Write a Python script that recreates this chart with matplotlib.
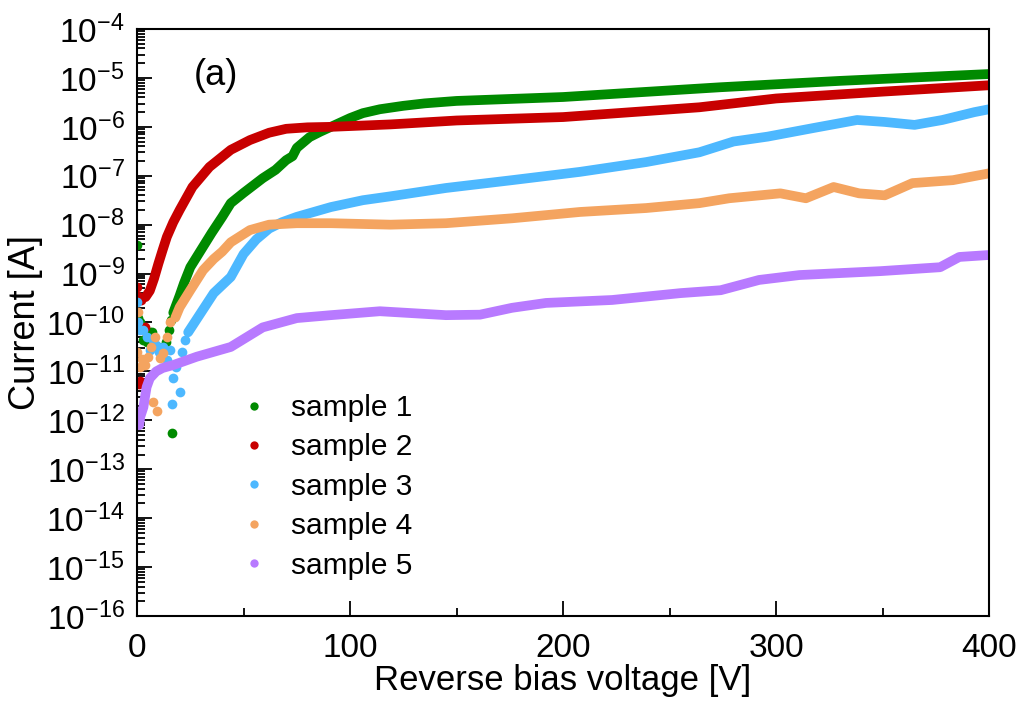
import matplotlib
matplotlib.use("Agg")
import matplotlib.pyplot as plt
from matplotlib.lines import Line2D
from matplotlib.ticker import LogLocator, NullFormatter, MultipleLocator
import numpy as np

plt.rcParams['font.family'] = ['Liberation Sans', 'DejaVu Sans']
plt.rcParams['mathtext.default'] = 'regular'

# values (voltage in V, log10 of current in A)
labels = ["sample 1", "sample 2", "sample 3", "sample 4", "sample 5"]
colors = ["#008a00", "#c80000", "#4db8ff", "#f4a460", "#b87aff"]

# smooth part of each curve
v1 = [17, 20, 22, 25, 30, 35, 40, 44, 50, 59, 65, 70, 73, 75, 81, 86, 91, 96,
      100, 106, 114, 125, 135, 150, 200, 274, 330, 400]
l1 = [-9.8, -9.45, -9.2, -8.87, -8.52, -8.17, -7.84, -7.56, -7.35, -7.05, -6.88,
      -6.68, -6.6, -6.43, -6.21, -6.1, -6.0, -5.9, -5.82, -5.72, -5.64, -5.57,
      -5.52, -5.47, -5.39, -5.19, -5.06, -4.92]

v2 = [4, 6, 8, 10, 12, 14, 17, 20, 26, 34, 44, 53, 62, 70, 80, 91, 119, 150,
      200, 264, 300, 350, 400]
l2 = [-9.48, -9.35, -9.1, -8.8, -8.52, -8.25, -7.95, -7.7, -7.23, -6.82, -6.47,
      -6.27, -6.12, -6.04, -6.01, -6.0, -5.95, -5.87, -5.8, -5.6, -5.42, -5.28,
      -5.15]

v3 = [24, 30, 36, 44, 50, 56, 62, 68, 75, 91, 106, 119, 145, 176, 208, 239, 264,
      280, 296, 318, 338, 351, 365, 378, 393, 400]
l3 = [-10.2, -9.8, -9.4, -9.07, -8.6, -8.3, -8.08, -7.95, -7.84, -7.64, -7.5,
      -7.42, -7.25, -7.09, -6.92, -6.72, -6.52, -6.3, -6.2, -6.02, -5.86, -5.9,
      -5.96, -5.86, -5.7, -5.64]

v4 = [18, 20, 25, 31, 36, 40, 44, 53, 62, 75, 91, 119, 145, 176, 208, 239, 264,
      278, 302, 314, 327, 339, 351, 364, 383, 400]
l4 = [-9.9, -9.69, -9.34, -8.93, -8.7, -8.55, -8.36, -8.11, -8.0, -7.97, -7.97,
      -8.0, -7.97, -7.87, -7.74, -7.66, -7.56, -7.46, -7.36, -7.46, -7.23, -7.36,
      -7.4, -7.15, -7.09, -6.95]

v5 = [1, 1.5, 3, 3.7, 4.5, 6, 9, 12, 17, 28, 44, 59, 75, 91, 114, 145, 161, 176,
      192, 223, 255, 274, 292, 311, 349, 377, 386, 400]
l5 = [-12.1, -11.93, -11.73, -11.53, -11.32, -11.14, -11.0, -10.93, -10.87,
      -10.7, -10.5, -10.1, -9.91, -9.85, -9.77, -9.85, -9.84, -9.7, -9.6, -9.54,
      -9.4, -9.34, -9.13, -9.03, -8.95, -8.87, -8.66, -8.62]

# noisy low-voltage points
sv1 = [0, 0.5, 1.5, 3, 4.5, 6, 7, 8, 10, 12, 13.5, 15, 16, 16.4]
sl1 = [-8.42, -9.9, -10.0, -10.36, -10.4, -10.2, -10.2, -10.45, -10.5, -10.5,
       -10.4, -10.15, -9.95, -12.26]
sv2 = [0, 0.5, 1, 2, 3, 3.8, 1.4, 0.8]
sl2 = [-9.28, -9.45, -9.5, -9.55, -10.16, -10.1, -11.2, -11.25]
sv3 = [0, 0.5, 1.5, 3, 4.5, 6, 7.5, 9, 10.5, 12, 14, 15.5, 17, 18.5, 20, 16.4,
       21, 22.5]
sl3 = [-9.58, -10.0, -10.15, -10.16, -10.3, -10.56, -10.36, -10.45, -10.6,
       -10.5, -10.77, -10.56, -11.14, -10.9, -11.42, -11.67, -10.6, -10.35]
sv4 = [0, 0.5, 1.4, 2.5, 3.8, 5, 6.5, 8.5, 10.8, 12, 14, 15.5, 7.5, 9.4]
sl4 = [-10.6, -9.79, -10.9, -10.75, -10.87, -10.7, -10.5, -10.3, -10.73, -10.63,
       -10.3, -10.0, -11.63, -11.8]

curves = [(v1, l1), (v2, l2), (v3, l3), (v4, l4), (v5, l5)]
points = [(sv1, sl1), (sv2, sl2), (sv3, sl3), (sv4, sl4)]

fig = plt.figure(figsize=(10.25, 7.08), dpi=100)
ax = fig.add_axes([0.1337, 0.13, 0.8313, 0.829])

for i, (v, l) in enumerate(curves):
    ax.plot(v, 10.0 ** np.array(l), color=colors[i], lw=7,
            solid_capstyle='round', solid_joinstyle='round', zorder=2 + i * 0.1)
for i, (v, l) in enumerate(points):
    ax.plot(v, 10.0 ** np.array(l), 'o', color=colors[i], ms=7, mew=0,
            zorder=2 + i * 0.1)

ax.set_yscale('log')
ax.set_xlim(0, 400)
ax.set_ylim(1e-16, 1e-4)
ax.xaxis.set_major_locator(MultipleLocator(100))
ax.xaxis.set_minor_locator(MultipleLocator(50))
ax.yaxis.set_major_locator(LogLocator(base=10, numticks=20))
ax.yaxis.set_minor_locator(LogLocator(base=10, subs=np.arange(2, 10), numticks=20))
ax.yaxis.set_minor_formatter(NullFormatter())

ax.tick_params(which='both', direction='in', top=False, right=False,
               labelsize=24, width=1.3)
ax.tick_params(axis='x', which='major', length=11, pad=12)
ax.tick_params(axis='x', which='minor', length=6)
ax.tick_params(axis='y', which='major', length=11, pad=9)
ax.tick_params(axis='y', which='minor', length=6)
for s in ax.spines.values():
    s.set_linewidth(1.5)

ax.set_xlabel("Reverse bias voltage [V]", fontsize=25, labelpad=0)
ax.set_ylabel("Current [A]", fontsize=26, labelpad=2)
ax.text(0.066, 0.92, "(a)", transform=ax.transAxes, fontsize=26,
        ha='left', va='center')

handles = [Line2D([], [], marker='o', ls='none', ms=6, mew=0, color=c)
           for c in colors]
ax.legend(handles, labels, loc='center left', bbox_to_anchor=(0.088, 0.22),
          frameon=False, fontsize=21.5, handlelength=1.0, handletextpad=0.75,
          labelspacing=0.38)

fig.savefig("out.png", dpi=100)
